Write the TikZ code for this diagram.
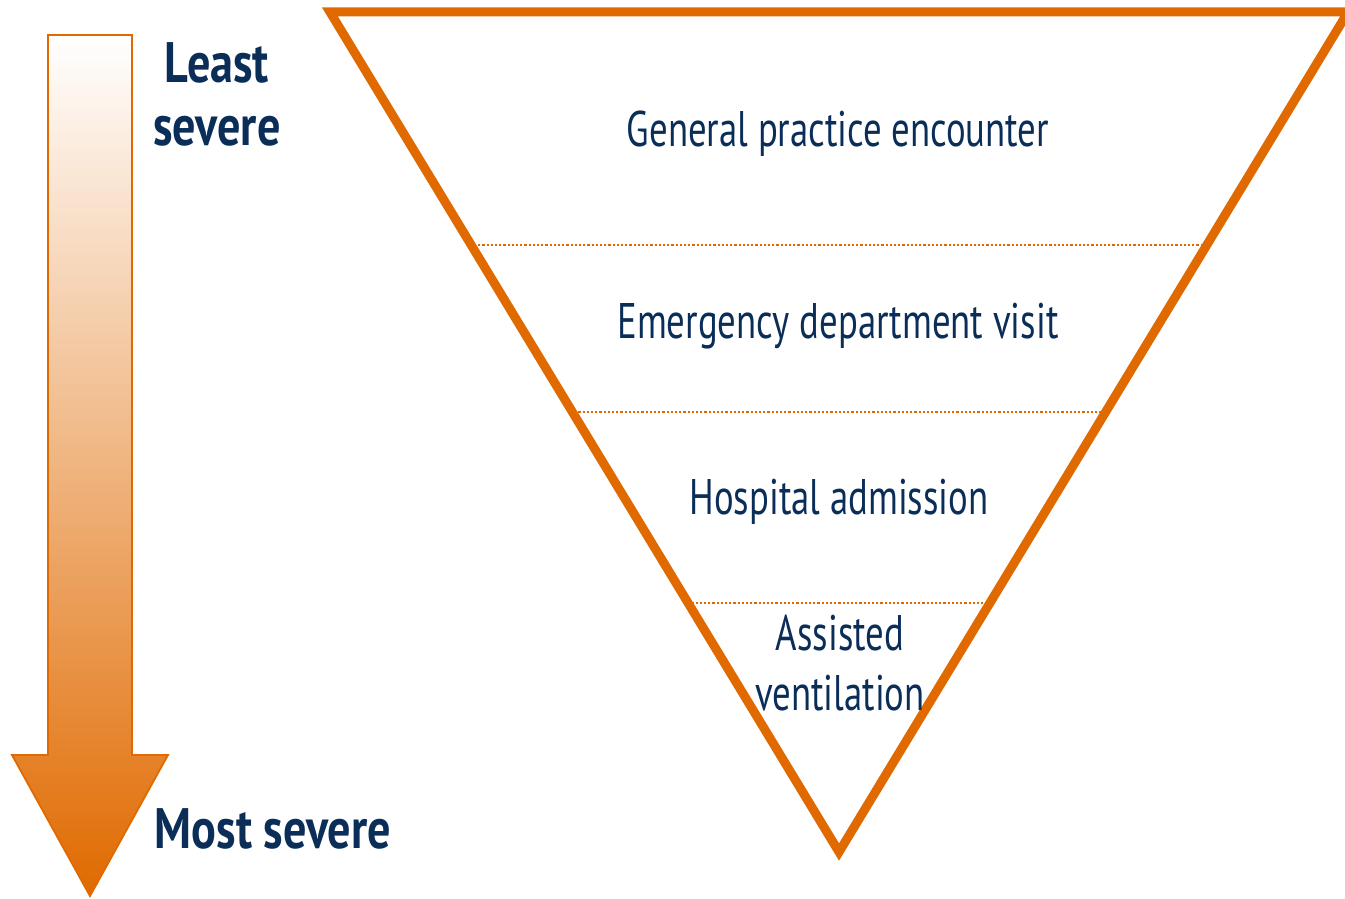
\documentclass[tikz,border=0pt]{standalone}
\usepackage{fontspec}
\setmainfont[FakeStretch=0.735]{PT Sans}
\newfontfamily\boldfam[FakeStretch=0.81]{PT Sans}
\definecolor{navy}{HTML}{0B2E59}
\definecolor{orng}{HTML}{E06A00}
\begin{document}
\begin{tikzpicture}[x=1pt,y=-1pt,
  lbl/.style={text=navy,font=\fontsize{50}{58}\selectfont,inner sep=0pt},
  blbl/.style={text=navy,font=\boldfam\bfseries\fontsize{57}{66}\selectfont,inner sep=0pt},
  sep/.style={orng,line width=2.2pt,dotted}]
\useasboundingbox (0,0) rectangle (1345,899);
% arrow
\shade[top color=white,bottom color=orng,draw=orng,line width=1.8pt,line join=miter]
  (48,35) -- (132,35) -- (132,755) -- (168,755) -- (90,896) -- (12,755) -- (48,755) -- cycle;
% triangle
\coordinate (tl) at (330,12);
\coordinate (tr) at (1348,12);
\coordinate (ap) at (839,852);
\draw[orng,line width=9pt,line join=miter] (tl) -- (tr) -- (ap) -- cycle;
% separators
\coordinate (s1l) at (474,245); \coordinate (s1r) at (1205,245);
\coordinate (s2l) at (570,412); \coordinate (s2r) at (1105,412);
\coordinate (s3l) at (683,603); \coordinate (s3r) at (988,603);
\draw[sep] (s1l) -- (s1r);
\draw[sep] (s2l) -- (s2r);
\draw[sep] (s3l) -- (s3r);
% labels
\node[blbl] (least) at (217,63) {Least};
\node[blbl] (sev) at (217,131) {severe};
\node[blbl] (most) at (273,829) {Most severe};
\node[lbl] (gp) at (838,134) {General practice encounter};
\node[lbl] (ed) at (838,326) {Emergency department visit};
\node[lbl] (ha) at (839,502) {Hospital admission};
\node[lbl] (av1) at (840,633) {Assisted};
\node[lbl] (av2) at (840,693) {ventilation};
\end{tikzpicture}
\end{document}
